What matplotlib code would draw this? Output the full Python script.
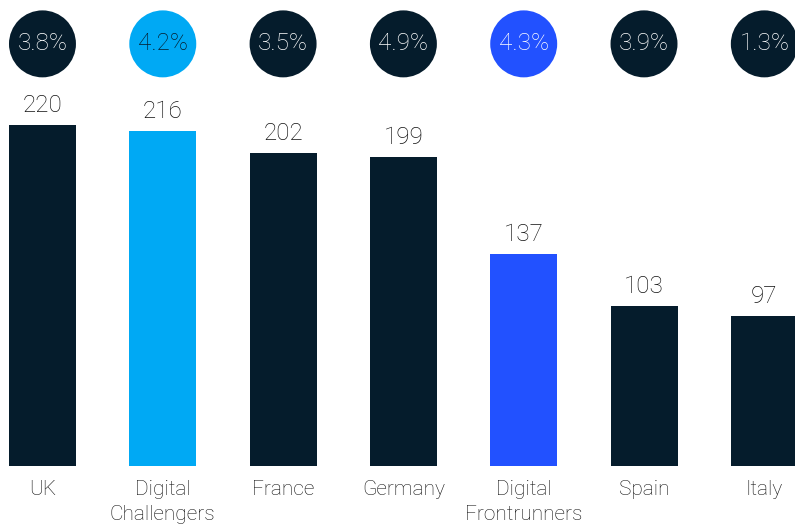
import matplotlib
matplotlib.use("Agg")
import matplotlib.pyplot as plt
import numpy as np

categories = ["UK", "Digital\nChallengers", "France", "Germany",
              "Digital\nFrontrunners", "Spain", "Italy"]
values = [220, 216, 202, 199, 137, 103, 97]
growth = ["3.8%", "4.2%", "3.5%", "4.9%", "4.3%", "3.9%", "1.3%"]

navy = "#051C2C"
cyan = "#00A9F4"
blue = "#2251FF"
bar_colors = [navy, cyan, navy, navy, blue, navy, navy]
circle_text = ["white", "#051C2C", "white", "white", "white", "white", "white"]

plt.rcParams["font.family"] = ["Roboto", "DejaVu Sans"]
plt.rcParams["font.weight"] = "light"

fig = plt.figure(figsize=(7.95, 5.3), dpi=100)
ax = fig.add_axes([0, 0, 1, 1])

x = np.arange(len(values))
ax.bar(x, values, width=0.557, color=bar_colors)

# circles with growth rates along the top
circle_y = 272.3
ax.scatter(x, [circle_y] * len(x), s=2325, c=bar_colors, zorder=3, linewidths=0)
for i, g in enumerate(growth):
    ax.text(i, circle_y, g, ha="center", va="center", fontsize=17.5,
            color=circle_text[i], zorder=4)

for i, v in enumerate(values):
    ax.annotate(str(v), xy=(i, v), xytext=(0, 9.4), textcoords="offset points",
                ha="center", va="baseline", fontsize=17.5, color="#111111")
    ax.annotate(categories[i], xy=(i, 0), xytext=(0, -10), textcoords="offset points",
                ha="center", va="top", fontsize=15, color="#111111",
                linespacing=1.4)

ax.set_xlim(-0.353, 6.255)
ax.set_ylim(-41.3, 300.6)
ax.axis("off")

fig.savefig("out.png", dpi=100)
